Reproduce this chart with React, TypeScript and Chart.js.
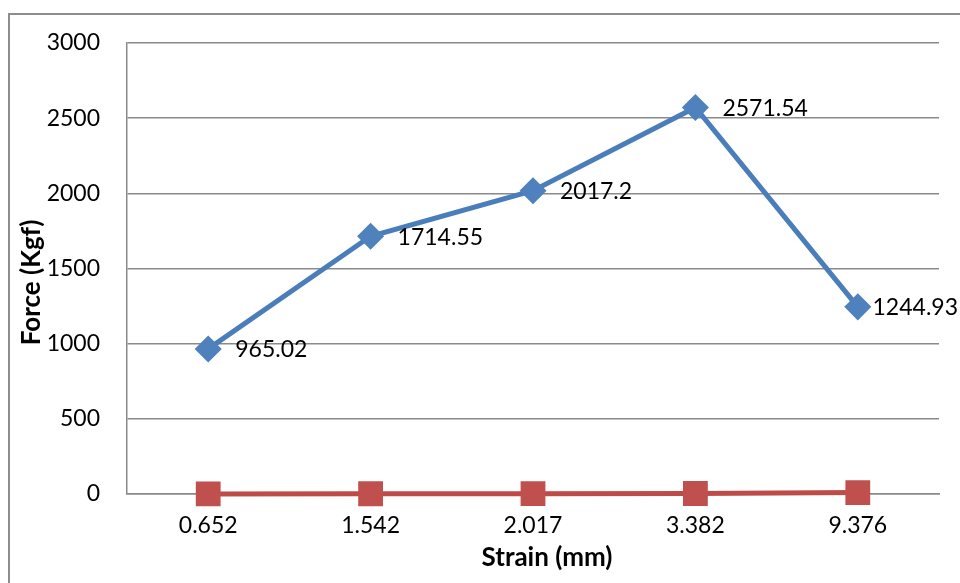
import { useEffect, useRef } from "react";
import { Chart, registerables } from "chart.js";

Chart.register(...registerables);

// Strain categories (mm) shown along the x axis
const strainLabels = ["0.652", "1.542", "2.017", "3.382", "9.376"];
// Peak force per specimen (Kgf)
const forceKgf = [965.02, 1714.55, 2017.2, 2571.54, 1244.93];
// Strain values plotted as the second series
const strainMm = [0.652, 1.542, 2.017, 3.382, 9.376];
// Value axis range
const yMin = 0;
const yMax = 3000;
const yStep = 500;

const xTitle = "Strain (mm)";
const yTitle = "Force (Kgf)";

const FONT = "Lato, 'Open Sans', sans-serif";
const GRID = "#8a8a8a";

const valueLabels = {
  id: "valueLabels",
  afterDatasetsDraw(chart: any) {
    const { ctx } = chart;
    const meta = chart.getDatasetMeta(0);
    ctx.save();
    ctx.font = `23px ${FONT}`;
    ctx.fillStyle = "#000";
    ctx.textBaseline = "middle";
    ctx.textAlign = "left";
    meta.data.forEach((el: any, i: number) => {
      const text = String(forceKgf[i]);
      const w = ctx.measureText(text).width;
      let x = el.x + 27;
      if (x + w > chart.width - 2) x = chart.width - 2 - w;
      ctx.fillText(text, x, el.y + 1);
    });
    ctx.restore();
  },
};

const axisTitles = {
  id: "axisTitles",
  afterDraw(chart: any) {
    const { ctx, chartArea } = chart;
    ctx.save();
    ctx.font = `bold 26px ${FONT}`;
    ctx.fillStyle = "#000";
    ctx.textAlign = "center";
    ctx.textBaseline = "middle";
    ctx.fillText(xTitle, (chartArea.left + chartArea.right) / 2 + 14, chartArea.bottom + 64);
    ctx.translate(32, (chartArea.top + chartArea.bottom) / 2 + 14);
    ctx.rotate(-Math.PI / 2);
    ctx.fillText(yTitle, 0, 0);
    ctx.restore();
  },
};

export default function App() {
  const canvasRef = useRef<HTMLCanvasElement | null>(null);

  useEffect(() => {
    if (!canvasRef.current) return;
    const chart = new Chart(canvasRef.current, {
      type: "line",
      data: {
        labels: strainLabels,
        datasets: [
          {
            label: "Force",
            data: forceKgf,
            borderColor: "#4A7EBB",
            backgroundColor: "#4F81BD",
            pointBorderColor: "#4F81BD",
            borderWidth: 5,
            pointStyle: "rectRot",
            pointRadius: 10,
            pointHoverRadius: 10,
            tension: 0,
            clip: false,
          },
          {
            label: "Strain",
            data: strainMm,
            borderColor: "#BE4B48",
            backgroundColor: "#C0504D",
            pointBorderColor: "#C0504D",
            borderWidth: 5,
            pointStyle: "rect",
            pointRadius: 14,
            pointHoverRadius: 14,
            tension: 0,
            clip: false,
          },
        ],
      },
      options: {
        animation: false,
        responsive: false,
        maintainAspectRatio: false,
        layout: { padding: { top: 43, right: 21, left: 0, bottom: 0 } },
        plugins: {
          legend: { display: false },
          tooltip: { enabled: false },
          title: { display: false },
        },
        scales: {
          x: {
            offset: true,
            grid: { display: false, drawTicks: false },
            border: { display: true, color: GRID, width: 1.5 },
            ticks: {
              color: "#000",
              font: { family: FONT, size: 23 },
              padding: 18,
              maxRotation: 0,
            },
            afterFit(scale: any) {
              scale.height = 89;
            },
          },
          y: {
            min: yMin,
            max: yMax,
            ticks: {
              stepSize: yStep,
              color: "#000",
              font: { family: FONT, size: 23 },
              padding: 27,
              callback: (v: any) => String(v),
            },
            grid: { color: GRID, lineWidth: 1.5, drawTicks: false },
            border: { display: true, color: GRID, width: 1.5 },
            afterFit(scale: any) {
              scale.width = 127;
            },
          },
        },
      },
      plugins: [valueLabels, axisTitles],
    });
    return () => chart.destroy();
  }, []);

  return (
    <div
      style={{
        position: "fixed",
        left: 0,
        top: 0,
        width: 960,
        height: 583,
        overflow: "hidden",
        background: "#fff",
      }}
    >
      <div
        style={{
          position: "absolute",
          left: 8,
          top: 13,
          width: 1100,
          height: 700,
          border: "2px solid #8d8d8d",
          boxSizing: "border-box",
        }}
      />
      <canvas
        ref={canvasRef}
        width={960}
        height={583}
        style={{ position: "absolute", left: 0, top: 0, width: 960, height: 583 }}
      />
    </div>
  );
}
